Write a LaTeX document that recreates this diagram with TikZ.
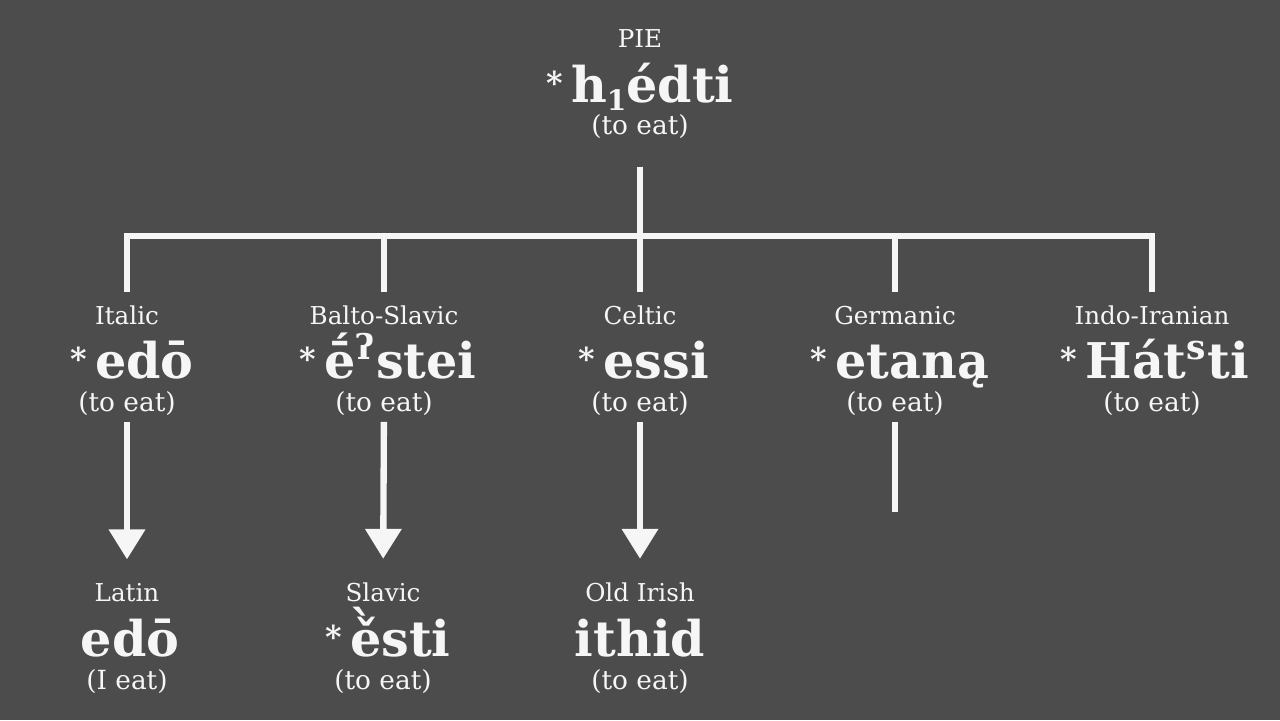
\documentclass[tikz,border=0pt]{standalone}
\usepackage{fontspec}
\setmainfont{DejaVu Serif}
\usetikzlibrary{arrows.meta}
\definecolor{board}{RGB}{76,76,76}
\definecolor{chalk}{RGB}{246,246,246}
\newcommand{\recon}[1]{\raisebox{2.2pt}{\fontsize{9}{9}\selectfont *}\,#1}
\newcommand{\lowone}{\raisebox{-2.4pt}{\fontsize{8}{8}\selectfont 1}}
\newcommand{\gravecaron}{\ooalign{ě\cr\hidewidth\kern-0.15em\smash{\raisebox{0.2em}{ˋ}}\hidewidth\cr}}
\tikzset{every path/.style={chalk,line width=1.8pt},
  lab/.style={text=chalk,anchor=base,inner sep=1pt,font=\fontsize{7}{8}\selectfont},
  form/.style={text=chalk,anchor=base,inner sep=1pt,font=\bfseries\fontsize{14}{16}\selectfont},
  gloss/.style={text=chalk,anchor=base,inner sep=1pt,font=\fontsize{7.5}{9}\selectfont},
  descent/.style={-{Triangle[width=10pt,length=8.5pt]}}}

\begin{document}
\begin{tikzpicture}[x=0.01cm,y=-0.01cm]
   \fill[board] (0,0) rectangle (1280,720);
   % PIE
   \node[lab]   (pie-lab)  at (640, 47) {PIE};
   \node[form]  (pie-form) at (640,102) {\recon{h\lowone édti}};
   \node[gloss] (pie-gl)   at (640,134) {(to eat)};
   % branches
   \node[lab]   (it-lab)  at ( 127,324) {Italic};
   \node[form]  (it-form) at ( 132,378) {\recon{edō}};
   \node[gloss] (it-gl)   at ( 127,411) {(to eat)};
   \node[lab]   (bs-lab)  at ( 384,324) {Balto-Slavic};
   \node[form]  (bs-form) at ( 388,378) {\recon{ḗ\textsuperscript{ʔ}stei}};
   \node[gloss] (bs-gl)   at ( 384,411) {(to eat)};
   \node[lab]   (ce-lab)  at ( 640,324) {Celtic};
   \node[form]  (ce-form) at ( 644,378) {\recon{essi}};
   \node[gloss] (ce-gl)   at ( 640,411) {(to eat)};
   \node[lab]   (ge-lab)  at ( 895,324) {Germanic};
   \node[form]  (ge-form) at ( 900,378) {\recon{etaną}};
   \node[gloss] (ge-gl)   at ( 895,411) {(to eat)};
   \node[lab]   (ii-lab)  at (1152,324) {Indo-Iranian};
   \node[form]  (ii-form) at (1155,378) {\recon{Hát\textsuperscript{s}ti}};
   \node[gloss] (ii-gl)   at (1152,411) {(to eat)};
   % daughters
   \node[lab]   (la-lab)  at ( 127,601) {Latin};
   \node[form]  (la-form) at ( 130,656) {edō};
   \node[gloss] (la-gl)   at ( 127,689) {(I eat)};
   \node[lab]   (sl-lab)  at ( 383,601) {Slavic};
   \node[form]  (sl-form) at ( 388,656) {\recon{\gravecaron sti}};
   \node[gloss] (sl-gl)   at ( 383,689) {(to eat)};
   \node[lab]   (oi-lab)  at ( 640,601) {Old Irish};
   \node[form]  (oi-form) at ( 640,656) {ithid};
   \node[gloss] (oi-gl)   at ( 640,689) {(to eat)};
   % tree
   \coordinate (j-it) at ( 127,236);
   \coordinate (j-bs) at ( 384,236);
   \coordinate (j-ce) at ( 640,236);
   \coordinate (j-ge) at ( 895,236);
   \coordinate (j-ii) at (1152,236);
   \coordinate (ge-end) at (895,512);
   \draw[shorten <=6.2pt] (pie-gl) -- (j-ce);
   \draw[line cap=rect] (j-it) -- (j-ii);
   \foreach \b in {it,bs,ce,ge,ii}
     \draw[shorten >=2pt] (j-\b) -- (\b-lab);
   \foreach \a/\b in {it/la,bs/sl,ce/oi}
     \draw[descent,shorten >=4.8pt] (\a-gl) -- (\b-lab);
   \draw (ge-gl) -- (ge-end);
\end{tikzpicture}
\end{document}
